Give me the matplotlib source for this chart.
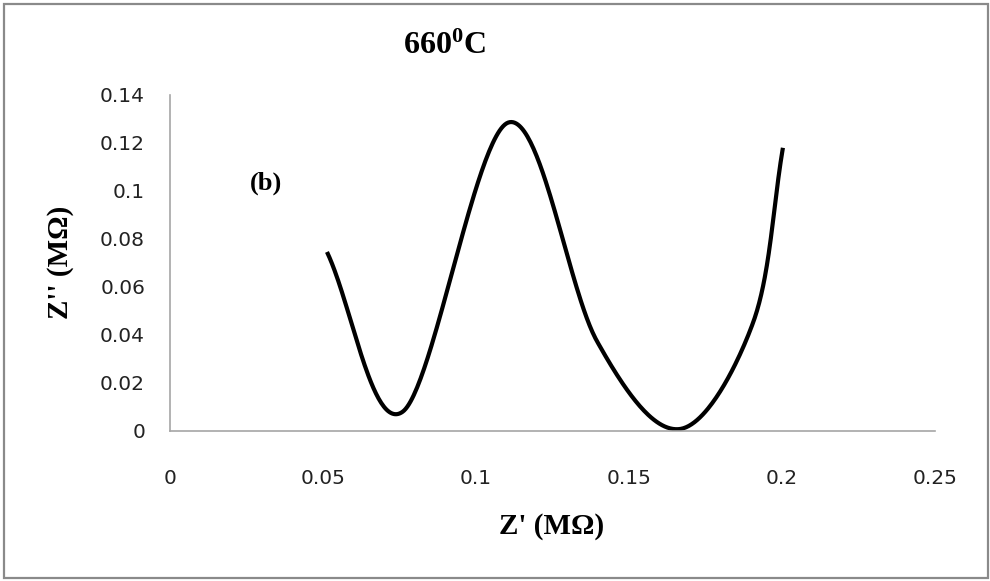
import numpy as np
import matplotlib
matplotlib.use("Agg")
import matplotlib.pyplot as plt
from matplotlib.patches import Rectangle

# Data (Z' and Z'' in MOhm)
z_real = [0.0513, 0.0760, 0.1105, 0.1395, 0.1665, 0.1905, 0.2003]
z_imag = [0.0746, 0.0080, 0.1285, 0.0375, 0.0008, 0.0450, 0.1180]
x_ticks = [0, 0.05, 0.1, 0.15, 0.2, 0.25]
x_tick_labels = ["0", "0.05", "0.1", "0.15", "0.2", "0.25"]
y_ticks = [0, 0.02, 0.04, 0.06, 0.08, 0.1, 0.12, 0.14]
y_tick_labels = ["0", "0.02", "0.04", "0.06", "0.08", "0.1", "0.12", "0.14"]


def catmull_rom(xs, ys, n=60):
    xs = np.asarray(xs, float)
    ys = np.asarray(ys, float)
    px = np.concatenate([[2 * xs[0] - xs[1]], xs, [2 * xs[-1] - xs[-2]]])
    py = np.concatenate([[2 * ys[0] - ys[1]], ys, [2 * ys[-1] - ys[-2]]])
    ox, oy = [], []
    t = np.linspace(0, 1, n)
    for i in range(1, len(px) - 2):
        p0x, p1x, p2x, p3x = px[i - 1], px[i], px[i + 1], px[i + 2]
        p0y, p1y, p2y, p3y = py[i - 1], py[i], py[i + 1], py[i + 2]
        c1x = p1x + (p2x - p0x) / 6
        c1y = p1y + (p2y - p0y) / 6
        c2x = p2x - (p3x - p1x) / 6
        c2y = p2y - (p3y - p1y) / 6
        bx = (1 - t) ** 3 * p1x + 3 * (1 - t) ** 2 * t * c1x + 3 * (1 - t) * t ** 2 * c2x + t ** 3 * p2x
        by = (1 - t) ** 3 * p1y + 3 * (1 - t) ** 2 * t * c1y + 3 * (1 - t) * t ** 2 * c2y + t ** 3 * p2y
        ox.extend(bx)
        oy.extend(by)
    return np.array(ox), np.array(oy)


fig = plt.figure(figsize=(9.9, 5.81), dpi=100)
ax = fig.add_axes([170 / 990, 1 - 431 / 581, (935 - 170) / 990, (431 - 95) / 581])

sx, sy = catmull_rom(z_real, z_imag)
ax.plot(sx, sy, color="black", lw=3.0, solid_capstyle="butt", solid_joinstyle="round")

ax.set_xlim(0, 0.25)
ax.set_ylim(0, 0.14)
ax.set_xticks(x_ticks)
ax.set_xticklabels(x_tick_labels)
ax.set_yticks(y_ticks)
ax.set_yticklabels(y_tick_labels)
ax.tick_params(axis="both", length=0, labelsize=14.5, colors="#000000")
ax.tick_params(axis="x", pad=27)
ax.tick_params(axis="y", pad=18)
for lab in ax.get_xticklabels() + ax.get_yticklabels():
    lab.set_fontfamily("DejaVu Sans")
    lab.set_color("#222222")

for s in ["top", "right"]:
    ax.spines[s].set_visible(False)
for s in ["left", "bottom"]:
    ax.spines[s].set_color("#a6a6a6")
    ax.spines[s].set_linewidth(1.2)

serif = "Liberation Serif"
fig.text(552 / 990, 1 - 527 / 581, "Z' (MΩ)", ha="center", va="center",
         fontsize=21, fontweight="bold", family=serif)
fig.text(60 / 990, 1 - 262 / 581, "Z'' (MΩ)", ha="center", va="center",
         rotation=90, fontsize=21, fontweight="bold", family=serif)

plt.rcParams["mathtext.fontset"] = "custom"
plt.rcParams["mathtext.rm"] = "Liberation Serif:bold"
plt.rcParams["mathtext.bf"] = "Liberation Serif:bold"
plt.rcParams["mathtext.it"] = "Liberation Serif:bold"
fig.text(444 / 990, 1 - 45 / 581, r"$\mathrm{660^{0}C}$", ha="center", va="center",
         fontsize=23)
fig.text(266 / 990, 1 - 183 / 581, "(b)", ha="center", va="center",
         fontsize=19, fontweight="bold", family=serif)

fig.patches.append(Rectangle((3.5 / 990, 3.5 / 581), 984 / 990, 574 / 581,
                             transform=fig.transFigure, fill=False,
                             edgecolor="#8a8a8a", linewidth=1.6))

fig.savefig("out.png", dpi=100)
